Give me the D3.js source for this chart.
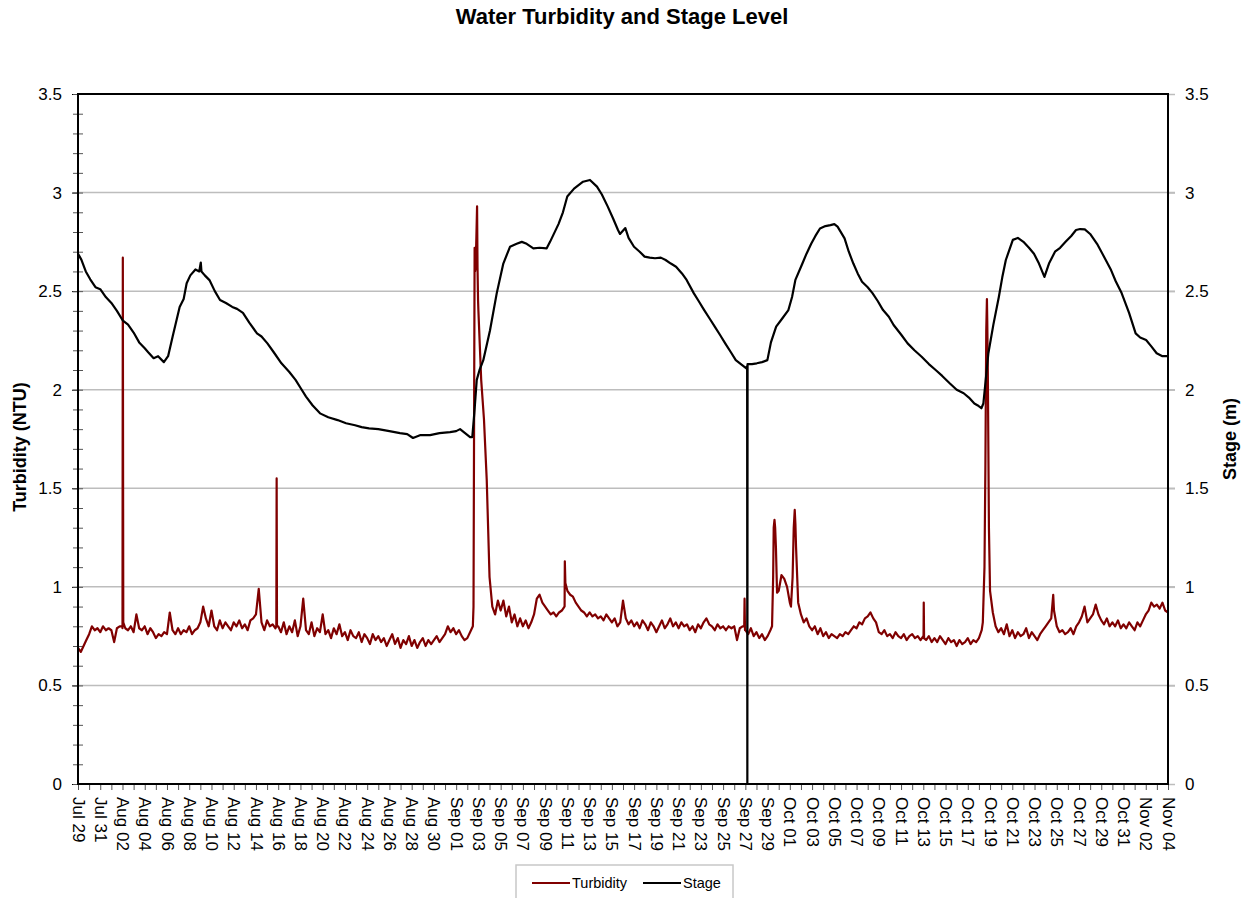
<!DOCTYPE html>
<html>
<head>
<meta charset="utf-8">
<script src="https://cdn.jsdelivr.net/npm/d3@7"></script>
<style>
  body { margin: 0; background: #fff; }
  svg { font-family: "Liberation Sans", Arial, sans-serif; }
</style>
</head>
<body>
<svg id="chart" width="1244" height="898"></svg>
<script>
// days are counted from Jul 29 00:00
const startDate = Date.UTC(2011, 6, 29);
const endDay = 98;

// stage (m)
const stageDay = [0, 0.3, 0.7, 1.1, 1.57, 2.0, 2.5, 3.0, 3.5, 4.04, 4.5, 5.0, 5.5, 6.0, 6.31, 6.8, 7.2, 7.72, 8.1, 8.51,
  9.14, 9.5, 9.77, 10.1, 10.56, 10.9, 11.04, 11.1, 11.4, 11.82, 12.3, 12.77, 13.3, 13.87, 14.3, 14.83, 15.4, 16.09, 16.5, 17.03,
  17.6, 18.29, 19.0, 19.56, 20.0, 20.5, 21.1, 21.76, 22.5, 23.34, 24.1, 24.91, 25.5, 26.17, 27.0, 28.0, 28.95, 29.6, 30.12, 30.8,
  31.65, 32.5, 33.45, 34.0, 34.35, 34.8, 35.25, 35.45, 35.63, 35.85, 36.1, 36.44, 37.04, 37.65, 38.24, 38.84, 39.44, 39.9, 40.34, 40.94,
  41.5, 42.14, 42.44, 43.2, 43.6, 43.99, 44.6, 45.41, 46.03, 46.66, 47.1, 47.62, 48.1, 48.55, 48.73, 49.21, 49.5, 49.99, 50.5, 50.94,
  51.4, 51.88, 52.4, 52.83, 53.3, 53.77, 54.3, 54.72, 55.36, 55.8, 56.3, 56.8, 57.25, 57.7, 58.19, 58.7, 59.14, 59.6, 60.09, 60.16,
  60.18, 60.2, 60.6, 61.03, 61.5, 61.98, 62.3, 62.77, 63.3, 63.87, 64.2, 64.5, 65.13, 65.5, 65.92, 66.3, 66.71, 67.2, 67.65, 68.0,
  68.29, 68.92, 69.3, 69.71, 70.1, 70.49, 71.0, 71.43, 71.9, 72.38, 72.9, 73.33, 74.0, 74.59, 75.2, 75.85, 76.5, 77.11, 77.7, 78.37,
  79.0, 79.63, 80.1, 80.59, 80.9, 81.22, 81.4, 81.85, 82.3, 82.79, 83.1, 83.42, 84.05, 84.5, 85.0, 85.5, 85.95, 86.4, 86.89, 87.3,
  87.84, 88.3, 88.79, 89.3, 89.73, 90.1, 90.52, 91.0, 91.62, 92.2, 92.88, 93.3, 93.83, 94.5, 95.09, 95.5, 96.03, 96.5, 96.98, 97.5, 98.0];
const stageM = [2.69, 2.66, 2.60, 2.56, 2.52, 2.51, 2.47, 2.44, 2.40, 2.35, 2.33, 2.29, 2.24, 2.21, 2.19, 2.16, 2.17, 2.14, 2.17, 2.27,
  2.42, 2.46, 2.54, 2.58, 2.61, 2.60, 2.645, 2.60, 2.58, 2.556, 2.50, 2.455, 2.44, 2.42, 2.41, 2.39, 2.34, 2.286, 2.27, 2.235,
  2.19, 2.134, 2.09, 2.05, 2.01, 1.965, 1.92, 1.88, 1.86, 1.846, 1.83, 1.82, 1.81, 1.804, 1.80, 1.79, 1.78, 1.775, 1.755, 1.77,
  1.77, 1.78, 1.785, 1.79, 1.80, 1.78, 1.76, 1.76, 1.88, 2.05, 2.10, 2.15, 2.30, 2.49, 2.64, 2.725, 2.74, 2.75, 2.74, 2.717,
  2.72, 2.717, 2.75, 2.84, 2.90, 2.98, 3.02, 3.055, 3.064, 3.03, 2.99, 2.93, 2.87, 2.81, 2.79, 2.82, 2.77, 2.725, 2.70, 2.675,
  2.67, 2.667, 2.67, 2.658, 2.64, 2.624, 2.59, 2.557, 2.49, 2.45, 2.404, 2.36, 2.32, 2.28, 2.235, 2.19, 2.15, 2.13, 2.108, 2.12,
  0.0, 2.13, 2.13, 2.134, 2.14, 2.15, 2.24, 2.32, 2.36, 2.404, 2.47, 2.557, 2.64, 2.69, 2.74, 2.78, 2.818, 2.83, 2.835, 2.84,
  2.827, 2.768, 2.70, 2.64, 2.59, 2.548, 2.52, 2.49, 2.45, 2.404, 2.37, 2.328, 2.28, 2.235, 2.20, 2.167, 2.13, 2.10, 2.07, 2.033,
  2.00, 1.982, 1.96, 1.93, 1.92, 1.906, 1.93, 2.185, 2.33, 2.47, 2.57, 2.658, 2.76, 2.77, 2.75, 2.72, 2.69, 2.64, 2.572, 2.64,
  2.70, 2.72, 2.75, 2.78, 2.81, 2.815, 2.813, 2.79, 2.74, 2.68, 2.607, 2.55, 2.49, 2.39, 2.286, 2.265, 2.252, 2.22, 2.185, 2.17, 2.17];

// turbidity (NTU), one reading every 6 hours
const turbStep = 0.25;
const turbNTU = [
  0.69, 0.67, 0.70, 0.73,  0.76, 0.80, 0.78, 0.79,  0.77, 0.80, 0.78, 0.79,  0.78, 0.72, 0.79, 0.80,  0.80, 0.79, 0.78, 0.80,
  0.77, 0.86, 0.79, 0.78,  0.80, 0.76, 0.79, 0.77,  0.74, 0.76, 0.75, 0.77,  0.76, 0.87, 0.78, 0.76,  0.79, 0.76, 0.78, 0.77,
  0.80, 0.76, 0.78, 0.79,  0.82, 0.90, 0.84, 0.80,  0.88, 0.80, 0.78, 0.83,  0.79, 0.82, 0.80, 0.78,  0.82, 0.80, 0.83, 0.79,
  0.81, 0.78, 0.83, 0.84,  0.86, 0.99, 0.82, 0.78,  0.83, 0.80, 0.81, 0.79,  0.80, 0.77, 0.82, 0.76,  0.80, 0.77, 0.83, 0.75,
  0.80, 0.94, 0.78, 0.76,  0.82, 0.75, 0.79, 0.77,  0.86, 0.76, 0.78, 0.74,  0.79, 0.76, 0.81, 0.75,  0.77, 0.73, 0.78, 0.75,
  0.74, 0.77, 0.72, 0.76,  0.74, 0.71, 0.76, 0.73,  0.75, 0.72, 0.74, 0.70,  0.73, 0.76, 0.71, 0.74,  0.69, 0.73, 0.71, 0.75,
  0.70, 0.73, 0.69, 0.72,  0.74, 0.70, 0.73, 0.71,  0.73, 0.75, 0.72, 0.74,  0.76, 0.80, 0.77, 0.79,  0.76, 0.78, 0.75, 0.73,
  0.74, 0.77, 0.80, 2.62,  2.40, 2.05, 1.85, 1.54,  1.05, 0.90, 0.86, 0.93,  0.88, 0.93, 0.85, 0.90,  0.82, 0.86, 0.80, 0.84,
  0.80, 0.83, 0.79, 0.82,  0.86, 0.94, 0.96, 0.92,  0.90, 0.88, 0.86, 0.87,  0.85, 0.87, 0.88, 0.90,  0.98, 0.96, 0.95, 0.92,
  0.90, 0.88, 0.87, 0.85,  0.87, 0.85, 0.86, 0.84,  0.85, 0.83, 0.86, 0.84,  0.82, 0.84, 0.80, 0.82,  0.93, 0.84, 0.81, 0.83,
  0.80, 0.82, 0.79, 0.83,  0.81, 0.78, 0.82, 0.80,  0.77, 0.80, 0.83, 0.79,  0.81, 0.84, 0.80, 0.82,  0.79, 0.82, 0.80, 0.81,
  0.78, 0.80, 0.77, 0.81,  0.79, 0.82, 0.84, 0.81,  0.80, 0.78, 0.81, 0.79,  0.80, 0.78, 0.80, 0.79,  0.80, 0.73, 0.79, 0.80,
  0.78, 0.76, 0.79, 0.75,  0.77, 0.74, 0.76, 0.73,  0.75, 0.78, 1.05, 1.20,  0.98, 1.06, 1.04, 1.00,  0.92, 1.05, 1.32, 0.92,
  0.86, 0.82, 0.84, 0.80,  0.78, 0.80, 0.76, 0.79,  0.75, 0.77, 0.74, 0.76,  0.75, 0.74, 0.76, 0.75,  0.77, 0.76, 0.78, 0.80,
  0.79, 0.82, 0.81, 0.84,  0.85, 0.87, 0.84, 0.82,  0.77, 0.76, 0.78, 0.75,  0.76, 0.74, 0.77, 0.75,  0.74, 0.76, 0.73, 0.75,
  0.76, 0.74, 0.75, 0.73,  0.75, 0.73, 0.75, 0.72,  0.74, 0.72, 0.75, 0.73,  0.71, 0.74, 0.72, 0.73,  0.70, 0.73, 0.71, 0.72,
  0.74, 0.71, 0.73, 0.72,  0.74, 0.78, 1.10, 2.35,  0.98, 0.87, 0.80, 0.77,  0.79, 0.76, 0.81, 0.75,  0.78, 0.74, 0.77, 0.75,
  0.76, 0.79, 0.74, 0.77,  0.75, 0.73, 0.76, 0.78,  0.80, 0.82, 0.84, 0.88,  0.80, 0.77, 0.78, 0.76,  0.77, 0.79, 0.76, 0.80,
  0.82, 0.85, 0.90, 0.82,  0.84, 0.86, 0.91, 0.86,  0.83, 0.81, 0.84, 0.80,  0.82, 0.80, 0.83, 0.79,  0.81, 0.79, 0.82, 0.80,
  0.78, 0.82, 0.80, 0.83,  0.86, 0.88, 0.92, 0.90,  0.91, 0.89, 0.92, 0.88,  0.87];

// short spikes between the 6-hour readings
const spikeDay = [4.0, 4.03, 4.07, 17.83, 17.86, 17.89, 35.56, 35.62, 35.66, 35.7, 35.82, 35.88, 35.92, 35.97,
  43.74, 43.77, 43.82, 59.9, 59.93, 59.97, 62.4, 62.55, 62.62, 62.68, 62.85, 64.1, 64.35, 64.44, 64.56,
  76.02, 76.04, 76.07, 81.35, 81.58, 81.66, 81.72, 81.8, 81.9, 87.68];
const spikeNTU = [0.79, 2.67, 0.82, 0.80, 1.55, 0.80, 0.90, 2.0, 2.72, 2.60, 2.78, 2.93, 2.62, 2.45,
  0.90, 1.13, 1.02, 0.80, 0.94, 0.78, 0.80, 1.30, 1.34, 1.30, 0.97, 0.90, 1.30, 1.39, 1.20,
  0.74, 0.92, 0.74, 0.82, 1.60, 2.30, 2.46, 2.10, 1.30, 0.96];

const leftTicks = [0, 0.5, 1, 1.5, 2, 2.5, 3, 3.5];
const seriesNames = ["Turbidity", "Stage"];
const seriesColors = ["#800000", "#000000"];

const toDate = d => new Date(startDate + d * 864e5);

const turbidity = turbNTU.map((v, i) => ({ t: toDate(i * turbStep), v }))
  .concat(spikeDay.map((d, i) => ({ t: toDate(d), v: spikeNTU[i] })))
  .sort((a, b) => a.t - b.t);
const stage = stageDay.map((d, i) => ({ t: toDate(d), v: stageM[i] }));

const width = 1244, height = 898;
const margin = { top: 94, right: 76, bottom: 114, left: 78 };

const svg = d3.select("#chart");

const x = d3.scaleUtc()
  .domain([toDate(0), toDate(endDay)])
  .range([margin.left, width - margin.right]);
const yL = d3.scaleLinear().domain([0, 3.5]).range([height - margin.bottom, margin.top]);
const yR = d3.scaleLinear().domain([0, 3.5]).range([height - margin.bottom, margin.top]);

// gridlines (run out to the right tick marks)
svg.append("g")
  .selectAll("line")
  .data(leftTicks.slice(1, -1))
  .join("line")
    .attr("x1", margin.left)
    .attr("x2", width - margin.right + 7)
    .attr("y1", d => yL(d))
    .attr("y2", d => yL(d))
    .attr("stroke", "#bdbdbd")
    .attr("stroke-width", 1.5);

// left axis: major ticks and labels
const gL = svg.append("g")
  .attr("transform", `translate(${margin.left},0)`)
  .call(d3.axisLeft(yL).tickValues(leftTicks).tickSize(6).tickPadding(10).tickFormat(d3.format("")));
gL.select(".domain").remove();
gL.selectAll("text").attr("font-size", 17).attr("fill", "#000");

// left minor ticks cross the axis
const gLm = svg.append("g")
  .attr("transform", `translate(${margin.left + 5},0)`)
  .call(d3.axisLeft(yL).tickValues(d3.range(0, 36).map(i => i / 10)).tickSize(10).tickFormat(""));
gLm.select(".domain").remove();
gLm.selectAll("line").attr("stroke", "#555");

// right axis
const gR = svg.append("g")
  .attr("transform", `translate(${width - margin.right},0)`)
  .call(d3.axisRight(yR).tickValues(leftTicks).tickSize(7).tickPadding(10).tickFormat(d3.format("")));
gR.select(".domain").remove();
gR.selectAll("line").attr("stroke", "#bdbdbd").attr("stroke-width", 1.5);
gR.selectAll("text").attr("font-size", 17).attr("fill", "#000");

// bottom axis: a tick every day, a label every two days
const days = d3.utcDay.range(toDate(0), toDate(endDay + 0.5));
const labelDays = days.filter((d, i) => i % 2 === 0);
const gXm = svg.append("g")
  .attr("transform", `translate(0,${height - margin.bottom})`)
  .call(d3.axisBottom(x).tickValues(days).tickSize(6).tickFormat(""));
gXm.select(".domain").remove();
gXm.selectAll("line").attr("stroke", "#555");

const gX = svg.append("g")
  .attr("transform", `translate(0,${height - margin.bottom})`)
  .call(d3.axisBottom(x).tickValues(labelDays).tickSize(0).tickFormat(d3.utcFormat("%b %d")));
gX.select(".domain").remove();
gX.selectAll("text")
  .attr("font-size", 17)
  .attr("fill", "#000")
  .attr("transform", "rotate(90)")
  .attr("x", 13)
  .attr("y", 0)
  .attr("dy", "0.35em")
  .attr("text-anchor", "start");

// series
const line = yScale => d3.line().x(d => x(d.t)).y(d => yScale(d.v));

svg.append("path")
  .datum(turbidity)
  .attr("fill", "none")
  .attr("stroke", seriesColors[0])
  .attr("stroke-width", 2.2)
  .attr("stroke-linejoin", "round")
  .attr("d", line(yL));

svg.append("path")
  .datum(stage)
  .attr("fill", "none")
  .attr("stroke", seriesColors[1])
  .attr("stroke-width", 2.2)
  .attr("stroke-linejoin", "round")
  .attr("d", line(yR));

// plot frame
svg.append("rect")
  .attr("x", margin.left)
  .attr("y", margin.top)
  .attr("width", width - margin.left - margin.right)
  .attr("height", height - margin.top - margin.bottom)
  .attr("fill", "none")
  .attr("stroke", "#000")
  .attr("stroke-width", 2);

// titles
svg.append("text")
  .attr("x", 622).attr("y", 24)
  .attr("text-anchor", "middle")
  .attr("font-size", 22).attr("font-weight", "bold")
  .text("Water Turbidity and Stage Level");

svg.append("text")
  .attr("transform", `translate(26,${(margin.top + height - margin.bottom) / 2 + 8}) rotate(-90)`)
  .attr("text-anchor", "middle")
  .attr("font-size", 18).attr("font-weight", "bold")
  .text("Turbidity (NTU)");

svg.append("text")
  .attr("transform", `translate(1236,${(margin.top + height - margin.bottom) / 2}) rotate(-90)`)
  .attr("text-anchor", "middle")
  .attr("font-size", 18).attr("font-weight", "bold")
  .text("Stage (m)");

// legend
const legend = svg.append("g").attr("transform", "translate(516,865)");
legend.append("rect")
  .attr("width", 217).attr("height", 40)
  .attr("fill", "#fff").attr("stroke", "#c8c8c8").attr("stroke-width", 1.5);
const item = legend.selectAll("g.item")
  .data(seriesNames)
  .join("g")
    .attr("class", "item")
    .attr("transform", (d, i) => `translate(${[16, 127][i]},18)`);
item.append("line")
  .attr("x1", 0).attr("x2", 38)
  .attr("stroke", (d, i) => seriesColors[i])
  .attr("stroke-width", 1.8);
item.append("text")
  .attr("x", 40).attr("dy", "0.35em")
  .attr("font-size", 14.5)
  .text(d => d);
</script>
</body>
</html>
